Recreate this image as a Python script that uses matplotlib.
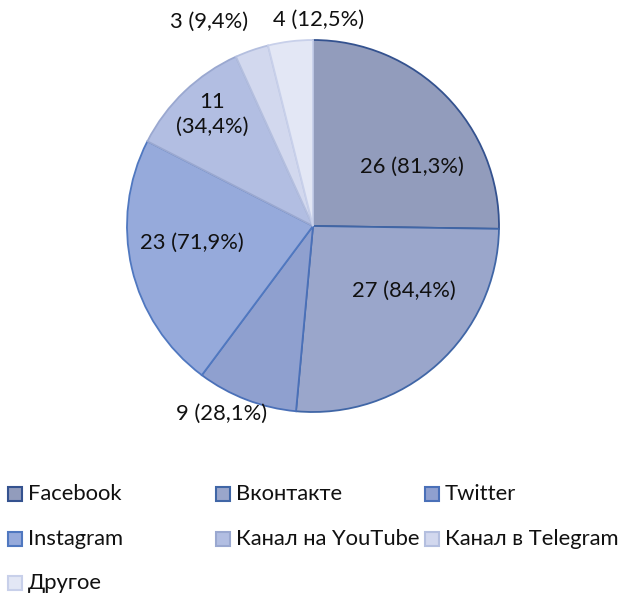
import numpy as np
import matplotlib.pyplot as plt

plt.rcParams['font.family'] = ['Lato', 'Open Sans', 'DejaVu Sans']

# данные
categories = ['Facebook', 'Вконтакте', 'Twitter', 'Instagram',
              'Канал на YouTube', 'Канал в Telegram', 'Другое']
counts = [26, 27, 9, 23, 11, 3, 4]
percents = [81.3, 84.4, 28.1, 71.9, 34.4, 9.4, 12.5]

fills = ['#929cbc', '#9aa6cb', '#8fa0cf', '#96aadb', '#b2bee2', '#d2d8ee', '#e3e7f5']
edges = ['#34528f', '#4066a6', '#4a70b8', '#5078c0', '#9aa8d0', '#b4bfdf', '#c8d0ea']

# положения подписей (x, y) в радиусах круга
label_pos = [(0.53, 0.32), (0.49, -0.35), (-0.49, -1.01), (-0.65, -0.09),
             (-0.54, 0.60), (-0.56, 1.10), (0.03, 1.11)]

fig = plt.figure(figsize=(6.21, 5.93), dpi=100)
W, H = 621, 593
cx, cy, R = 313, 226, 186
ax = fig.add_axes([(cx - R) / W, (H - cy - R) / H, 2 * R / W, 2 * R / H])

wedges, _ = ax.pie(counts, startangle=90, counterclock=False, radius=1,
                   colors=fills, wedgeprops=dict(linewidth=1.3))
for w, ec in zip(wedges, edges):
    w.set_edgecolor(ec)

for i, (x, y) in enumerate(label_pos):
    txt = f"{counts[i]} ({percents[i]:.1f}%)".replace('.', ',')
    if categories[i] == 'Канал на YouTube':
        txt = txt.replace(' ', '\n', 1)
    ax.text(x, y, txt, ha='center', va='center', fontsize=15.8, color='#111111',
            linespacing=1.35)

ax.set_xlim(-1, 1)
ax.set_ylim(-1, 1)
ax.set_aspect('equal')
ax.axis('off')

# легенда
col_x = [8, 216, 425]
row_y = [494, 539, 583]
box = 14
for i, name in enumerate(categories):
    r, c = divmod(i, 3)
    x = col_x[c] / W
    y = 1 - row_y[r] / H
    sq = plt.Rectangle((x, y - box / 2 / H), box / W, box / H, transform=fig.transFigure,
                       facecolor=fills[i], edgecolor=edges[i], linewidth=1.5)
    fig.patches.append(sq)
    fig.text(x + 20 / W, y, name, ha='left', va='center', fontsize=15.8, color='#111111')

fig.savefig('out.png', dpi=100)
